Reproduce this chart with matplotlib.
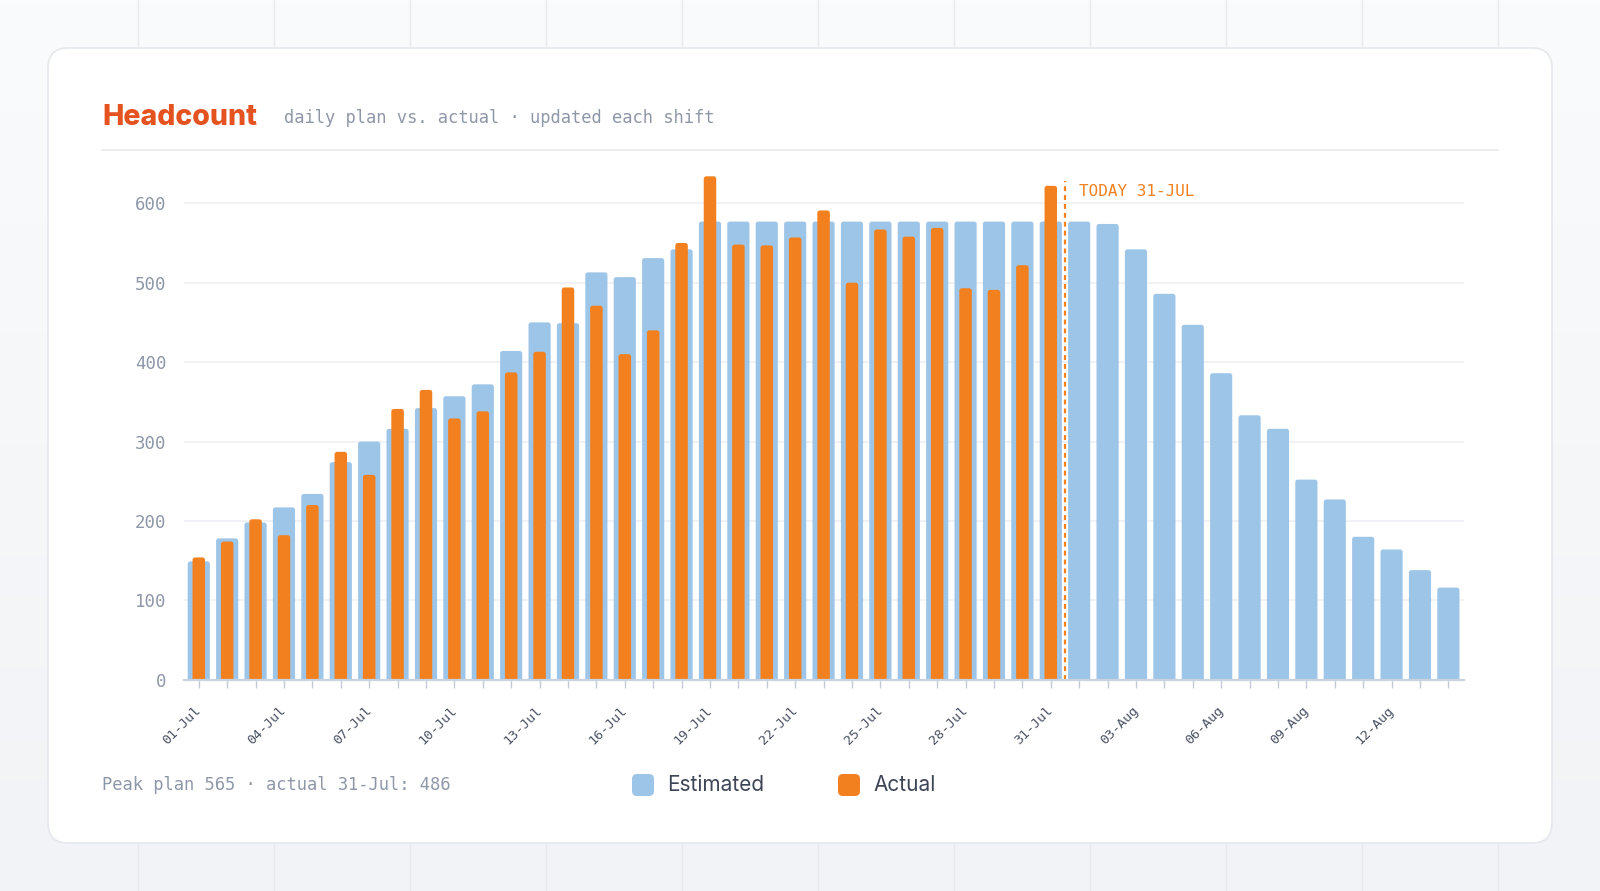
import matplotlib
matplotlib.use("Agg")
import numpy as np
import matplotlib.pyplot as plt
from matplotlib.patches import FancyBboxPatch

# ---- data ----
days = [f"{d:02d}-Jul" for d in range(1, 32)] + [f"{d:02d}-Aug" for d in range(1, 15)]
estimated = [149, 178, 198, 217, 234, 274, 300, 316, 342, 357, 372, 414, 450, 449, 513,
             507, 531, 542, 577, 577, 577, 577, 577, 577, 577, 577, 577, 577, 577, 577,
             577, 577, 574, 542, 486, 447, 386, 333, 316, 252, 227, 180, 164, 138, 116]
actual = [154, 174, 202, 182, 220, 287, 258, 341, 365, 329, 338, 387, 413, 494, 471,
          410, 440, 550, 634, 548, 547, 557, 591, 500, 567, 558, 569, 493, 491, 522, 622]
today_index = 30
y_ticks = [0, 100, 200, 300, 400, 500, 600]

BLUE = "#9dc5e7"
ORANGE = "#f2801e"
TITLE_RED = "#e4531f"
GRAY = "#8e97a8"
DARK = "#3d4556"
MONO = "DejaVu Sans Mono"
SANS = ["Inter", "DejaVu Sans"]

W, H = 1600, 891
fig = plt.figure(figsize=(W / 100, H / 100), dpi=100)

# background + card, in image pixel coordinates
bg = fig.add_axes([0, 0, 1, 1], zorder=0)
bg.set_xlim(0, W)
bg.set_ylim(H, 0)
bg.axis("off")
grad = np.linspace(0, 1, 256).reshape(-1, 1)
bg.imshow(grad, extent=[0, W, H, 0], aspect="auto",
          cmap=matplotlib.colors.LinearSegmentedColormap.from_list("g", ["#fafbfc", "#f1f3f6"]))
for x in range(138, W, 136):
    bg.plot([x, x], [0, H], color="#e8eaef", lw=1, zorder=1)
card = FancyBboxPatch((48, 48), W - 96, H - 96, boxstyle="round,pad=0,rounding_size=20",
                      facecolor="white", edgecolor="#e4e7ec", lw=1.2, zorder=2)
bg.add_patch(card)
bg.plot([102, 1498], [150, 150], color="#e7eaef", lw=1.2, zorder=3)

bg.text(102, 125, "Headcount", family=SANS, weight="heavy", fontsize=20.5,
        color=TITLE_RED, va="baseline", ha="left", zorder=4)
bg.text(284, 123, "daily plan vs. actual · updated each shift", family=MONO,
        fontsize=12.3, color=GRAY, va="baseline", ha="left", zorder=4)
bg.text(102, 785, "Peak plan 565 · actual 31-Jul: 486", family=MONO,
        fontsize=12.3, color=GRAY, va="center", ha="left", zorder=4)

# legend
for x0, col, label in [(632, BLUE, "Estimated"), (838, ORANGE, "Actual")]:
    bg.add_patch(FancyBboxPatch((x0, 774), 22, 22, boxstyle="round,pad=0,rounding_size=5",
                                facecolor=col, edgecolor="none", zorder=4))
    bg.text(x0 + 35, 785, label, family=SANS, fontsize=15, color=DARK,
            va="center", ha="left", zorder=4)

# chart axes
ax_left, ax_right, ax_top, ax_bottom = 184.3, 1464, 163.6, 679.7
ax = fig.add_axes([ax_left / W, (H - ax_bottom) / H, (ax_right - ax_left) / W,
                   (ax_bottom - ax_top) / H], zorder=5)
ax.patch.set_alpha(0)
ax.set_xlim(-0.51, 44.55)
ax.set_ylim(0, 650)

x_all = np.arange(len(days))
x_act = np.arange(len(actual))
px_per_x = (ax_right - ax_left) / (44.55 + 0.51)
px_per_y = (ax_bottom - ax_top) / 650


def rounded_bars(xs, vals, width, color, z):
    bars = ax.bar(xs, vals, width=width, color=color, zorder=z)
    for b in bars:
        x, y, w, h = b.get_x(), b.get_y(), b.get_width(), b.get_height()
        b.remove()
        r = 0.09
        p = FancyBboxPatch((x, y - 8), w, h + 8,
                           boxstyle=f"round,pad=0,rounding_size={r}",
                           mutation_aspect=px_per_x / px_per_y,
                           facecolor=color, edgecolor="none", zorder=z)
        ax.add_patch(p)


rounded_bars(x_all, estimated, 0.78, BLUE, 2)
rounded_bars(x_act, actual, 0.44, ORANGE, 3)

ax.vlines(today_index + 0.5, 0, 628, colors=ORANGE, linestyles=(0, (2.2, 1.8)), lw=1.6, zorder=4)
ax.text(today_index + 1.0, 615, "TODAY 31-JUL", family=MONO, fontsize=11.5,
        color=ORANGE, va="center", ha="left", zorder=4)

ax.set_yticks(y_ticks)
ax.set_yticklabels([str(v) for v in y_ticks], family=MONO, fontsize=12.5, color=GRAY)
ax.tick_params(axis="y", length=0, pad=13)
ax.yaxis.grid(True, color="#eef0f4", lw=1.2, zorder=0)
ax.set_axisbelow(True)

ax.set_xticks(x_all)
ax.set_xticklabels([d if i % 3 == 0 else "" for i, d in enumerate(days)],
                   family=MONO, fontsize=9.6, color="#4a5264", rotation=45,
                   ha="right", va="center", rotation_mode="anchor")
ax.tick_params(axis="x", length=6, width=1, color="#c3cbd6", pad=15)

for s in ["top", "right", "left"]:
    ax.spines[s].set_visible(False)
ax.spines["bottom"].set_color("#c9d3df")
ax.spines["bottom"].set_linewidth(1.6)
ax.spines["bottom"].set_zorder(6)

fig.savefig("out.png", dpi=100)
